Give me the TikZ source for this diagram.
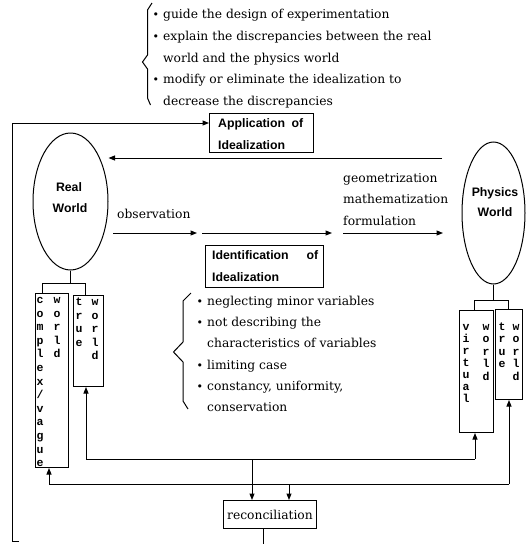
\documentclass[tikz,border=0pt]{standalone}
\usepackage{fontspec}
\setmainfont{DejaVu Serif}
\newfontfamily\bsans{Liberation Sans}
\newfontfamily\lmono{Liberation Mono}
\usetikzlibrary{arrows.meta,shapes.geometric}
\newcommand\bul{\llap{\fontsize{11}{11}\selectfont\textbullet\hspace{4pt}}}
\begin{document}
\begin{tikzpicture}[x=1pt,y=-1pt,
  ln/.style={line width=1pt},
  arr/.style={line width=1pt,-{Triangle[length=6.5pt,width=5pt]}},
  bx/.style={draw,line width=1pt,inner sep=0pt,anchor=north west},
  txt/.style={font=\fontsize{12.3}{14}\selectfont,inner sep=0pt,anchor=base west},
  btx/.style={font=\bsans\bfseries\fontsize{12.3}{14}\selectfont,inner sep=0pt,anchor=base west},
  bct/.style={font=\bsans\bfseries\fontsize{12.3}{14}\selectfont,inner sep=0pt,anchor=base},
  vl/.style={font=\lmono\bfseries\fontsize{11.5}{12}\selectfont,inner sep=0pt,anchor=base},
  ell/.style={draw,ellipse,line width=1pt,inner sep=0pt}]
\useasboundingbox (0,0) rectangle (531,544);

% top brace and list
\draw[ln] (152,3) -- (147.5,10) -- (147.5,55) -- (142.5,62) -- (147.5,69) -- (147.5,98) -- (150.5,105);
\node[txt] (t1) at (163,18.5) {\bul guide the design of experimentation};
\node[txt] (t2) at (163,40.25) {\bul explain the discrepancies between the real};
\node[txt] (t3) at (163,62) {world and the physics world};
\node[txt] (t4) at (163,83.75) {\bul modify or eliminate the idealization to};
\node[txt] (t5) at (163,105.5) {decrease the discrepancies};

% application box
\node[bx,minimum width=104pt,minimum height=39pt] (app) at (209,113) {};
\node[btx] (appt1) at (218,127) {\makebox[85pt][s]{Application of}};
\node[btx] (appt2) at (218,149) {Idealization};

% ellipses
\node[ell,minimum width=75pt,minimum height=137pt] (real) at (70.5,201.5) {};
\node[bct] (realt1) at (69,191) {Real};
\node[bct] (realt2) at (70,212) {World};
\node[ell,minimum width=63pt,minimum height=142pt] (phys) at (493.5,213) {};
\node[bct] (physt1) at (495,196) {Physics};
\node[bct] (physt2) at (495,216) {World};

% arrow back to real world
\coordinate (rwa) at (442,158);
\draw[arr] (rwa) -- (rwa -| real.east);

% observation arrows
\node[txt] (obs) at (117,218.5) {observation};
\coordinate (oa) at (113,233); \coordinate (ob) at (197,233);
\coordinate (oc) at (202,233); \coordinate (od) at (332,233);
\coordinate (oe) at (343,233); \coordinate (of) at (443,233);
\draw[arr] (oa) -- (ob);
\draw[arr] (oc) -- (od);
\draw[arr] (oe) -- (of);
\node[txt] (geo) at (343,182.5) {geometrization};
\node[txt] (mat) at (343,203.5) {mathematization};
\node[txt] (frm) at (343,225.5) {formulation};

% identification box
\node[bx,minimum width=118pt,minimum height=42pt] (ident) at (205,245) {};
\node[btx] (idt1) at (212,259) {\makebox[106pt][s]{Identification of}};
\node[btx] (idt2) at (212,281) {Idealization};

% lower brace and list
\draw[ln] (191,293) -- (183,301) -- (183,342) -- (173.5,352) -- (183,362) -- (183,401) -- (188,409);
\node[txt] (s1) at (207,305.5) {\bul neglecting minor variables};
\node[txt] (s2) at (207,326.7) {\bul not describing the};
\node[txt] (s3) at (207,347.9) {characteristics of variables};
\node[txt] (s4) at (207,369.1) {\bul limiting case};
\node[txt] (s5) at (207,390.3) {\bul constancy, uniformity,};
\node[txt] (s6) at (207,411.5) {conservation};

% sub boxes
\node[bx,minimum width=33pt,minimum height=174pt] (cx) at (35,293) {};
\node[bx,minimum width=30pt,minimum height=91pt] (rt) at (73,295) {};
\node[bx,minimum width=34pt,minimum height=122pt] (pv) at (459,310) {};
\node[bx,minimum width=27pt,minimum height=90pt] (pt) at (495,309) {};

% stems
\coordinate (rbl) at (42,283); \coordinate (rbr) at (85,283);
\draw[ln] (real.south) -- (real.south |- rbl);
\draw[ln] (rbl |- cx.north) -- (rbl) -- (rbr) -- (rbr |- rt.north);
\coordinate (pbl) at (474,300); \coordinate (pbr) at (508,300);
\draw[ln] (phys.south) -- (phys.south |- pbl);
\draw[ln] (pbl |- pv.north) -- (pbl) -- (pbr) -- (pbr |- pt.north);

% vertical letters
\foreach \ch [count=\i from 0] in {c,o,m,p,l,e,x,/,v,a,g,u,e}
  \node[vl] (cxa\i) at (40,{303.5+13.6*\i}) {\ch};
\foreach \ch [count=\i from 0] in {w,o,r,l,d}
  \node[vl] (cxb\i) at (57,{303.5+13.6*\i}) {\ch};
\foreach \ch [count=\i from 0] in {t,r,u,e}
  \node[vl] (rta\i) at (79,{305.5+13.6*\i}) {\ch};
\foreach \ch [count=\i from 0] in {w,o,r,l,d}
  \node[vl] (rtb\i) at (95,{305.5+13.6*\i}) {\ch};
\foreach \ch [count=\i from 0] in {v,i,r,t,u,a,l}
  \node[vl] (pva\i) at (466,{330+12*\i}) {\ch};
\foreach \ch [count=\i from 0] in {w,o,r,l,d}
  \node[vl] (pvb\i) at (486,{330+12.5*\i}) {\ch};
\foreach \ch [count=\i from 0] in {t,r,u,e}
  \node[vl] (pta\i) at (502,{330+12.5*\i}) {\ch};
\foreach \ch [count=\i from 0] in {w,o,r,l,d}
  \node[vl] (ptb\i) at (516,{330+12.5*\i}) {\ch};

% reconciliation and bottom connectors
\node[bx,minimum width=93pt,minimum height=28pt,font=\fontsize{12.3}{14}\selectfont] (rec) at (223,500) {reconciliation};
\coordinate (l1a) at (86,459); \coordinate (l1b) at (475,459); \coordinate (l1c) at (252,459);
\coordinate (l2a) at (49,484); \coordinate (l2b) at (509,484); \coordinate (l2c) at (289,484);
\draw[ln] (l1a) -- (l1b);
\draw[arr] (l1a) -- (l1a |- rt.south);
\draw[arr] (l1b) -- (l1b |- pv.south);
\draw[arr] (l1c) -- (l1c |- rec.north);
\draw[ln] (l2a) -- (l2b);
\draw[arr] (l2a) -- (l2a |- cx.south);
\draw[arr] (l2b) -- (l2b |- pt.south);
\draw[arr] (l2c) -- (l2c |- rec.north);
\coordinate (rb) at (263,544);
\draw[ln] (rb |- rec.south) -- (rb);

% left feedback line
\coordinate (ls) at (19,541); \coordinate (lc) at (12,541); \coordinate (lt) at (12,123);
\draw[arr] (ls) -- (lc) -- (lt) -- (lt -| app.west);
\end{tikzpicture}
\end{document}
